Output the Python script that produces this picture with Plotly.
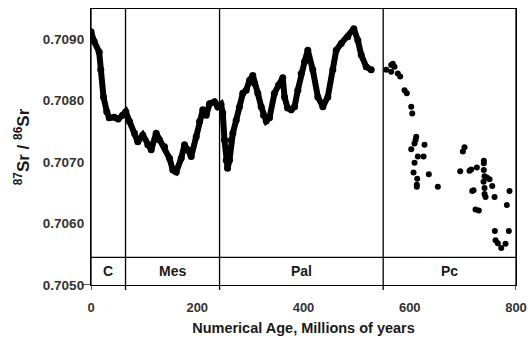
import plotly.graph_objects as go

# Phanerozoic (Cenozoic-Mesozoic-Paleozoic) seawater curve
phan_age = [0, 6, 15.4, 18.4, 23.5, 29.7, 34.3, 43.7, 51.2, 59.3, 65.5, 72.5, 81.9, 88.1,
            97.5, 106.9, 113.3, 122.7, 129, 138.4, 147.8, 154, 160.4, 169.8, 176, 182.2,
            188.6, 198, 204.3, 210.5, 216.9, 223.1, 232.5, 238.7,
            244.7, 248, 251.3, 254.5, 257, 260.7, 264, 267, 273.3, 279.5, 285.8, 292.2,
            298.4, 304.6, 307.8, 314, 320.4, 324.7, 329.8, 336, 345.4, 353, 361, 364.3,
            370, 376.9, 383.1, 389.3, 395.7, 402, 408.1, 417.5, 427, 436.4, 445.8, 455.2,
            461.6, 471, 483.4, 494.7, 502.3, 508.7, 518, 527.5]
phan_sr = [0.70912, 0.70896, 0.70879, 0.70850, 0.70806, 0.70782, 0.70772, 0.70773, 0.70770,
           0.70776, 0.70782, 0.70766, 0.70747, 0.70733, 0.70744, 0.70728, 0.70720, 0.70747,
           0.70736, 0.70725, 0.70706, 0.70687, 0.70684, 0.70706, 0.70728, 0.70720, 0.70709,
           0.70741, 0.70766, 0.70785, 0.70776, 0.70795, 0.70798, 0.70790,
           0.70794, 0.70780, 0.70736, 0.70703, 0.70690, 0.70703, 0.70736, 0.70747, 0.70768,
           0.70790, 0.70812, 0.70817, 0.70833, 0.70841, 0.70828, 0.70812, 0.70790, 0.70776,
           0.70767, 0.70772, 0.70812, 0.70825, 0.70837, 0.70806, 0.70788, 0.70785, 0.70790,
           0.70817, 0.70844, 0.70863, 0.70882, 0.70850, 0.70806, 0.70790, 0.70806, 0.70850,
           0.70882, 0.70893, 0.70904, 0.70917, 0.70898, 0.70874, 0.70855, 0.70850]

# Precambrian scattered samples
pc_age = [555.7, 565.1, 568.1, 571.3, 565.1, 577.5, 582, 590.2, 594.5, 602.8, 604.7,
          612.2, 610.9, 609, 602.8, 627.8, 615.2, 626, 609, 607.1, 614.1, 613.3, 613.3,
          635.9, 652.9, 703.1, 700, 695, 712.5, 715.7, 726.3, 739.4, 739.4, 739.4, 740.8,
          745.1, 750.2, 738.9, 740.8, 755.3, 720.1, 717.6, 740.8, 742.7, 759.6, 787.8,
          782.8, 723.8, 730, 760.2, 786.5, 761.5, 765.8, 772.2, 780.3]
pc_sr = [0.70850, 0.70858, 0.70860, 0.70855, 0.70847, 0.70844, 0.70839, 0.70817, 0.70812,
         0.70790, 0.70779, 0.70741, 0.70736, 0.70730, 0.70721, 0.70728, 0.70709, 0.70709,
         0.70699, 0.70683, 0.70673, 0.70663, 0.70660, 0.70680, 0.70660, 0.70724, 0.70717,
         0.70685, 0.70686, 0.70688, 0.70691, 0.70702, 0.70698, 0.70687, 0.70677, 0.70675,
         0.70672, 0.70668, 0.70658, 0.70661, 0.70654, 0.70653, 0.70648, 0.70643, 0.70643,
         0.70653, 0.70630, 0.70623, 0.70621, 0.70588, 0.70588, 0.70573, 0.70568, 0.70560,
         0.70567]

# Era boundaries (Ma) and labels
era_bounds = [0, 65, 242, 550, 800]
era_names = ["C", "Mes", "Pal", "Pc"]
era_band_top = 0.70545
era_label_y = 0.70522

x_ticks = [0, 200, 400, 600, 800]
y_ticks = [0.7050, 0.7060, 0.7070, 0.7080, 0.7090]
x_range = [0, 800]
y_range = [0.7050, 0.70949]

FONT = "Liberation Sans, Arial, sans-serif"

fig = go.Figure()
fig.add_trace(go.Scatter(x=phan_age, y=phan_sr, mode="lines+markers",
                         line=dict(color="black", width=6),
                         marker=dict(color="black", size=7),
                         showlegend=False, hoverinfo="skip"))
fig.add_trace(go.Scatter(x=pc_age, y=pc_sr, mode="markers",
                         marker=dict(color="black", size=6),
                         showlegend=False, hoverinfo="skip"))

shapes = []
for b in era_bounds:
    shapes.append(dict(type="line", xref="x", yref="paper", x0=b, x1=b, y0=-0.018, y1=1,
                       line=dict(color="black", width=1.3)))
shapes.append(dict(type="line", xref="paper", yref="y", x0=0, x1=1,
                   y0=era_band_top, y1=era_band_top, line=dict(color="black", width=1.3)))
shapes.append(dict(type="line", xref="paper", yref="y", x0=-0.022, x1=0,
                   y0=y_range[0], y1=y_range[0], line=dict(color="black", width=1.3)))

annotations = []
for i, name in enumerate(era_names):
    annotations.append(dict(x=(era_bounds[i] + era_bounds[i + 1]) / 2, y=era_label_y,
                            xref="x", yref="y", text="<b>%s</b>" % name, showarrow=False,
                            font=dict(family=FONT, size=14, color="#1a1a1a")))

fig.update_layout(
    width=528, height=338,
    margin=dict(l=91, r=12, t=9, b=53, autoexpand=False),
    plot_bgcolor="white", paper_bgcolor="white",
    shapes=shapes, annotations=annotations,
    font=dict(family=FONT),
)
fig.update_xaxes(range=x_range, tickvals=x_ticks, ticktext=[str(v) for v in x_ticks],
                 automargin=False,
                 showgrid=False, zeroline=False, showline=True, mirror=True,
                 linecolor="black", linewidth=1.3,
                 ticks="outside", ticklen=10, tickcolor="rgba(0,0,0,0)",
                 tickfont=dict(family=FONT, size=13, color="#333333", weight="bold"),
                 title=dict(text="<b>Numerical Age, Millions of years</b>", standoff=9,
                            font=dict(family=FONT, size=14.5, color="#1a1a1a")))
fig.update_yaxes(range=y_range, tickvals=y_ticks, ticktext=["%.4f" % v for v in y_ticks],
                 automargin=False,
                 showgrid=False, zeroline=False, showline=True, mirror=True,
                 linecolor="black", linewidth=1.3,
                 ticks="outside", ticklen=3, tickcolor="rgba(0,0,0,0)",
                 tickfont=dict(family=FONT, size=13.5, color="#333333", weight="bold"),
                 title=dict(text="<b><sup>87</sup>Sr / <sup>86</sup>Sr</b>", standoff=8,
                            font=dict(family=FONT, size=17, color="#1a1a1a")))

fig.write_html("out.html", config={"displayModeBar": False},
               post_script="document.body.style.margin='0px';")
